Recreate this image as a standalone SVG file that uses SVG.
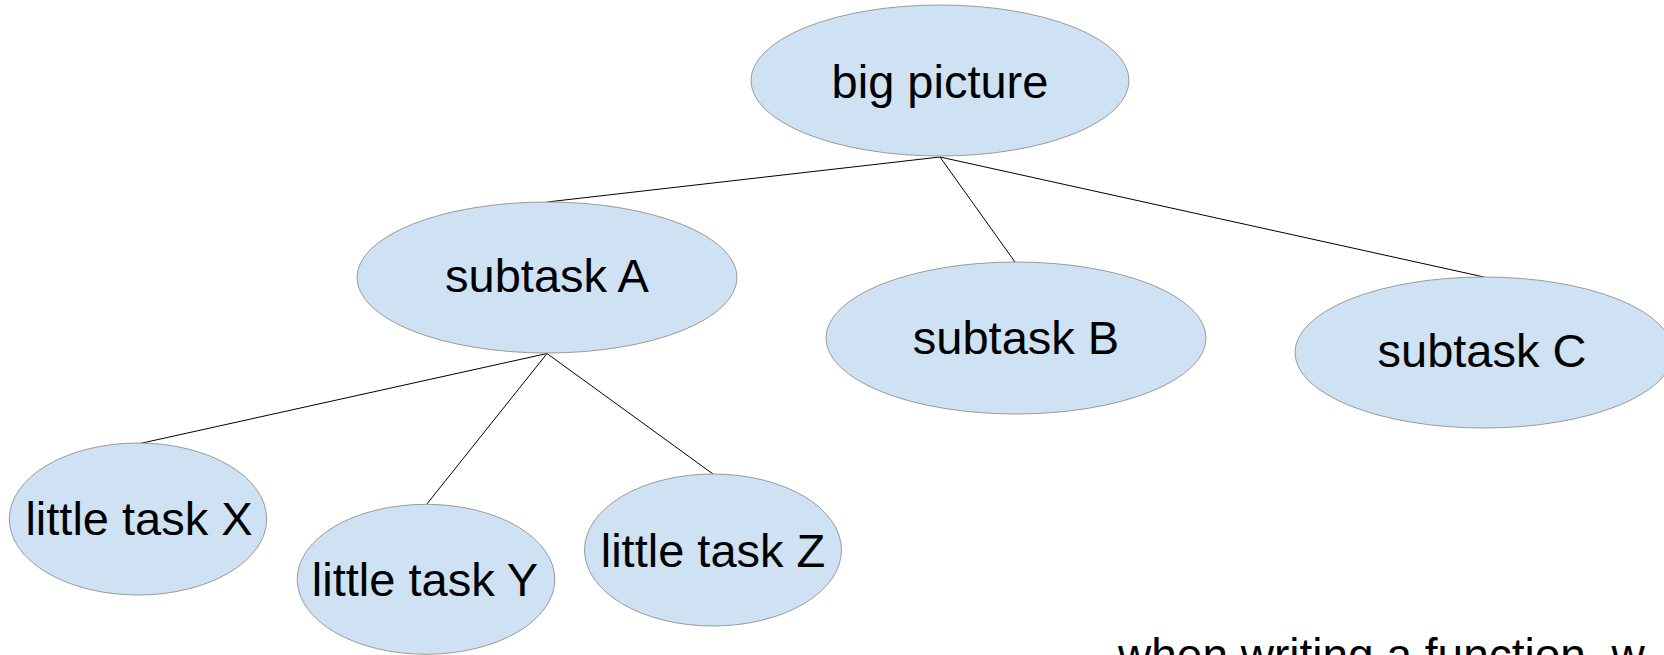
<svg xmlns="http://www.w3.org/2000/svg" width="1664" height="655" viewBox="0 0 1664 655">
<style>
.n ellipse{fill:#cfe2f3;stroke:#9a9a9a;stroke-width:1}
text{font-family:"Liberation Sans",Arial,sans-serif;fill:#000;text-anchor:middle;font-size:47px}
.c line{stroke:#000;stroke-width:1}
</style>
<rect width="1664" height="655" fill="#fff"/>
<g class="c" id="connectors">
<line x1="940" y1="157" x2="547" y2="202"/>
<line x1="940" y1="157" x2="1015" y2="262"/>
<line x1="940" y1="157" x2="1484" y2="277"/>
<line x1="547" y1="353.5" x2="140" y2="443.5"/>
<line x1="547" y1="353.5" x2="426.5" y2="504.5"/>
<line x1="547" y1="353.5" x2="713" y2="474"/>
</g>
<g class="n" id="big-picture"><ellipse cx="940" cy="80.5" rx="189" ry="75.5"/><text x="940" y="98">big picture</text></g>
<g class="n" id="subtask-a"><ellipse cx="547" cy="277.5" rx="190" ry="75.5"/><text x="547" y="292">subtask A</text></g>
<g class="n" id="subtask-b"><ellipse cx="1016" cy="338" rx="190" ry="76"/><text x="1016" y="354">subtask B</text></g>
<g class="n" id="subtask-c"><ellipse cx="1484" cy="352.5" rx="189" ry="75.5"/><text x="1482" y="366.5">subtask C</text></g>
<g class="n" id="little-x"><ellipse cx="138" cy="519" rx="128.7" ry="76"/><text x="139" y="535">little task X</text></g>
<g class="n" id="little-y"><ellipse cx="426" cy="579.3" rx="128.8" ry="75"/><text x="425" y="596">little task Y</text></g>
<g class="n" id="little-z"><ellipse cx="713" cy="550" rx="128.5" ry="76"/><text x="713" y="566.5">little task Z</text></g>
<g id="note"><text x="1118" y="671" style="text-anchor:start;font-size:46px">when writing a function, w</text></g>
</svg>
